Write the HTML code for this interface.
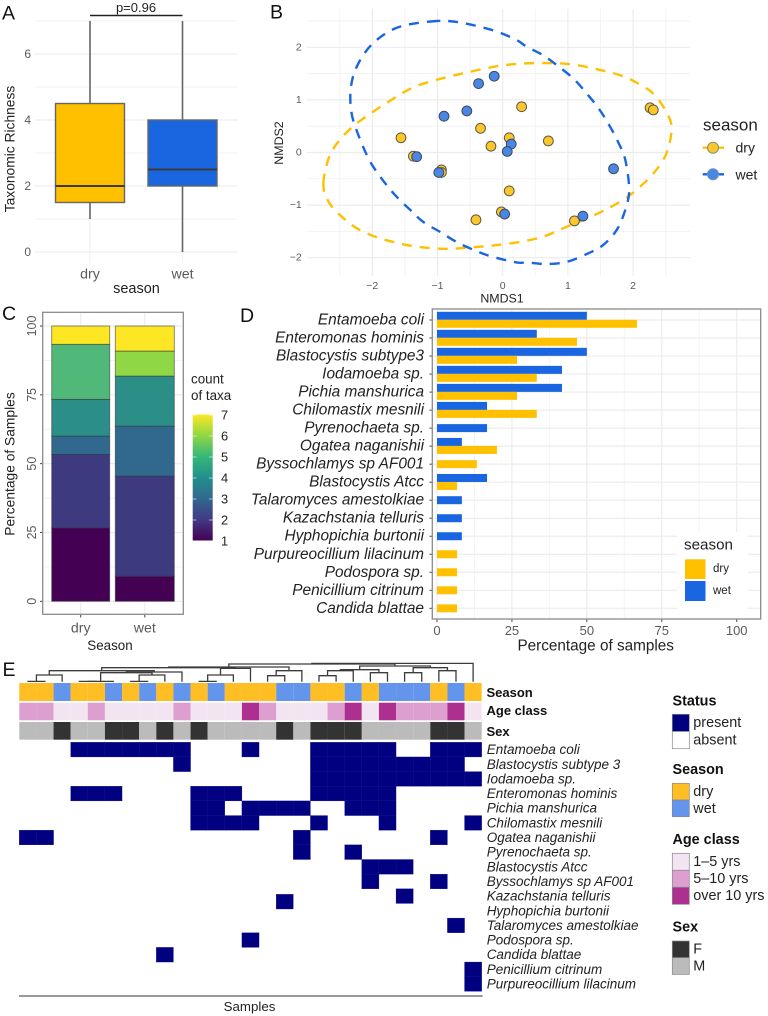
<!DOCTYPE html>
<html lang="en">
<head>
<meta charset="utf-8">
<title>Taxonomic richness, ordination and prevalence panels</title>
<style>
html,body{margin:0;padding:0;background:#fff;width:768px;height:1016px;overflow:hidden}
svg{display:block;font-family:"Liberation Sans",sans-serif;filter:blur(.3px)}
text{dominant-baseline:central}
.letter{font-size:19.5px;fill:#111}
</style>
</head>
<body>
<svg id="fig" xmlns="http://www.w3.org/2000/svg" width="768" height="1016" viewBox="0 0 768 1016">
  <defs>
    <linearGradient id="viridis" x1="0" y1="1" x2="0" y2="0">
      <stop offset="0" stop-color="#440154"/><stop offset="0.167" stop-color="#443a83"/>
      <stop offset="0.333" stop-color="#31688e"/><stop offset="0.5" stop-color="#21908c"/>
      <stop offset="0.667" stop-color="#35b779"/><stop offset="0.833" stop-color="#8fd744"/>
      <stop offset="1" stop-color="#fde725"/>
    </linearGradient>
  </defs>
  <rect width="768" height="1016" fill="#fff"/>

  <g id="panelA">
    <text class="letter" x="2" y="13.5">A</text>
    <g id="a-grid"></g>
    <g id="a-marks"></g>
    <text x="136" y="7.5" font-size="13" text-anchor="middle" fill="#222">p=0.96</text>
    <text transform="translate(10,149) rotate(-90)" font-size="13.8" text-anchor="middle" fill="#222">Taxonomic Richness</text>
    <text x="136.5" y="289" font-size="14.5" text-anchor="middle" fill="#222">season</text>
  </g>

  <g id="panelB">
    <text class="letter" x="270" y="12.5">B</text>
    <g id="b-grid"></g>
    <g id="b-marks"></g>
    <text transform="translate(279,143) rotate(-90)" font-size="12.4" text-anchor="middle" fill="#222">NMDS2</text>
    <text x="502" y="298.5" font-size="12.4" text-anchor="middle" fill="#222">NMDS1</text>
    <g>
      <text x="703" y="125" font-size="17" fill="#222">season</text>
      <line x1="702.7" x2="724" y1="147.7" y2="147.7" stroke="#ffc000" stroke-width="2.4"/>
      <circle cx="713" cy="147.7" r="5.5" fill="#fcc72a" stroke="#888" stroke-width="1"/>
      <text x="735.5" y="147.7" font-size="14" fill="#222">dry</text>
      <line x1="702.7" x2="724" y1="174.3" y2="174.3" stroke="#1a66e0" stroke-width="2.4"/>
      <circle cx="713" cy="174.3" r="5.5" fill="#4a86e4" stroke="#6f8fc0" stroke-width="1"/>
      <text x="735.5" y="174.3" font-size="14" fill="#222">wet</text>
    </g>
  </g>

  <g id="panelC">
    <text class="letter" x="2" y="314">C</text>
    <g id="c-grid"></g>
    <g id="c-marks"></g>
    <rect x="42.7" y="312.3" width="140.6" height="302" fill="none" stroke="#8a8a8a" stroke-width="1.3"/>
    <text transform="translate(10,464) rotate(-90)" font-size="13.8" text-anchor="middle" fill="#222">Percentage of Samples</text>
    <text x="110" y="645.5" font-size="13.4" text-anchor="middle" fill="#222">Season</text>
    <text x="191" y="379" font-size="13.4" fill="#222">count</text>
    <text x="191" y="395.5" font-size="13.4" fill="#222">of taxa</text>
    <rect x="192.7" y="414.5" width="20" height="126" fill="url(#viridis)"/>
    <g id="c-legend"></g>
  </g>

  <g id="panelD">
    <text class="letter" x="240" y="316">D</text>
    <g id="d-grid"></g>
    <g id="d-marks"></g>
    <rect x="432.3" y="309" width="328.4" height="310" fill="none" stroke="#8a8a8a" stroke-width="1.3"/>
    <text x="595.7" y="646" font-size="15.3" text-anchor="middle" fill="#222">Percentage of samples</text>
    <g>
      <rect x="677" y="532" width="71" height="86" fill="#fff"/>
      <text x="684" y="545" font-size="15.2" fill="#222">season</text>
      <rect x="685" y="559.3" width="20.5" height="19.7" fill="#ffc000"/>
      <text x="713" y="569" font-size="11.5" fill="#222">dry</text>
      <rect x="685" y="581" width="20.5" height="20" fill="#1a66e0"/>
      <text x="713" y="591" font-size="11.5" fill="#222">wet</text>
    </g>
  </g>

  <g id="panelE">
    <text class="letter" x="2.5" y="670">E</text>
    <g id="e-tree"></g>
    <g id="e-annot"></g>
    <g id="e-cells"></g>
    <g id="e-labels"></g>
    <text x="486.5" y="692.7" font-size="13" font-weight="bold" fill="#111">Season</text>
    <text x="486.5" y="710.7" font-size="13" font-weight="bold" fill="#111">Age class</text>
    <text x="486.5" y="731.5" font-size="13" font-weight="bold" fill="#111">Sex</text>
    <line x1="19" x2="482.7" y1="996" y2="996" stroke="#333" stroke-width="1.1"/>
    <text x="249.5" y="1006.7" font-size="13.3" text-anchor="middle" fill="#222">Samples</text>
    <g font-size="14.4" fill="#222">
      <text x="672.5" y="701.7" font-size="14.4" font-weight="bold" fill="#111">Status</text>
      <rect x="672.3" y="714.3" width="17" height="17.2" fill="#000080" stroke="#888" stroke-width=".7"/>
      <rect x="672.3" y="731.5" width="17" height="17.2" fill="#fff" stroke="#888" stroke-width=".7"/>
      <text x="693.3" y="723.2">present</text>
      <text x="693.3" y="740.3">absent</text>
      <text x="672.5" y="770" font-size="14.4" font-weight="bold" fill="#111">Season</text>
      <rect x="672.3" y="783.3" width="17" height="16.7" fill="#ffbf24" stroke="#888" stroke-width=".7"/>
      <rect x="672.3" y="800" width="17" height="16.7" fill="#6495ed" stroke="#888" stroke-width=".7"/>
      <text x="693.3" y="792">dry</text>
      <text x="693.3" y="809">wet</text>
      <text x="672.5" y="840" font-size="14.4" font-weight="bold" fill="#111">Age class</text>
      <rect x="672.3" y="853.3" width="17" height="17" fill="#f2e4f0" stroke="#888" stroke-width=".7"/>
      <rect x="672.3" y="870.3" width="17" height="17" fill="#dd9fd0" stroke="#888" stroke-width=".7"/>
      <rect x="672.3" y="887.3" width="17" height="17" fill="#ad2f8f" stroke="#888" stroke-width=".7"/>
      <text x="693.3" y="862">1–5 yrs</text>
      <text x="693.3" y="879">5–10 yrs</text>
      <text x="693.3" y="896">over 10 yrs</text>
      <text x="672.5" y="927.7" font-size="14.4" font-weight="bold" fill="#111">Sex</text>
      <rect x="672.3" y="941" width="17" height="16.7" fill="#333" stroke="#888" stroke-width=".7"/>
      <rect x="672.3" y="957.7" width="17" height="16.7" fill="#bbb" stroke="#888" stroke-width=".7"/>
      <text x="693.3" y="949.5">F</text>
      <text x="693.3" y="966.5">M</text>
    </g>
  </g>
</svg>

<script>
/* ---------- Panel A data ---------- */
const boxCategories = ['dry', 'wet'];
const boxMin = [1, 0];
const boxQ1 = [1.5, 2];
const boxMedian = [2, 2.5];
const boxQ3 = [4.5, 4];
const boxMax = [7, 7];
const richnessTicks = [0, 2, 4, 6];
const richnessMinorTicks = [1, 3, 5, 7];

/* ---------- Panel B data ---------- */
const nmdsDryX = [-1.56, -1.37, -0.94, -0.94, -0.34, -0.18, 0.10, 0.10, -0.02, -0.41, 0.29, 0.70, 2.26, 2.31, 1.10];
const nmdsDryY = [0.28, -0.07, -0.33, -0.38, 0.46, 0.12, 0.28, -0.73, -1.13, -1.28, 0.87, 0.22, 0.85, 0.81, -1.30];
const nmdsWetX = [-0.37, -0.13, -0.55, -0.90, -1.32, -0.98, 0.13, 0.07, 0.03, 1.70, 1.23];
const nmdsWetY = [1.31, 1.45, 0.79, 0.69, -0.08, -0.38, 0.16, 0.02, -1.17, -0.31, -1.21];
const ellipseDryX = [-2.75, -2.73, -2.65, -2.50, -2.27, -1.98, -1.68, -1.37, -0.96, -0.55, -0.14, 0.27, 0.67, 0.93, 1.19, 1.49, 1.80, 2.05, 2.31, 2.51, 2.59, 2.51, 2.31, 2.05, 1.85, 1.54, 1.24, 0.93, 0.62, 0.27, -0.09, -0.45, -0.86, -1.32, -1.68, -1.98, -2.24, -2.44, -2.62, -2.73];
const ellipseDryY = [-0.59, -0.40, -0.05, 0.24, 0.52, 0.78, 1.02, 1.24, 1.40, 1.52, 1.63, 1.69, 1.70, 1.69, 1.65, 1.57, 1.47, 1.33, 1.12, 0.77, 0.46, -0.02, -0.40, -0.71, -0.90, -1.11, -1.28, -1.44, -1.60, -1.70, -1.76, -1.80, -1.83, -1.79, -1.70, -1.59, -1.44, -1.25, -1.03, -0.78];
const ellipseWetX = [-1.01, -1.42, -1.70, -1.96, -2.14, -2.27, -2.33, -2.33, -2.27, -2.06, -1.86, -1.65, -1.42, -1.22, -0.96, -0.71, -0.45, -0.19, 0.21, 0.37, 0.67, 0.98, 1.29, 1.54, 1.75, 1.88, 1.94, 1.88, 1.77, 1.62, 1.47, 1.29, 1.08, 0.83, 0.62, 0.37, 0.21, -0.09, -0.45, -0.76];
const ellipseWetY = [2.50, 2.44, 2.33, 2.11, 1.85, 1.54, 1.22, 0.87, 0.52, -0.11, -0.49, -0.81, -1.09, -1.32, -1.51, -1.70, -1.85, -1.97, -2.09, -2.09, -2.12, -2.08, -1.93, -1.76, -1.47, -1.09, -0.71, -0.14, 0.20, 0.55, 0.84, 1.12, 1.41, 1.66, 1.85, 2.01, 2.14, 2.30, 2.42, 2.49];
const nmdsTicks = [-2, -1, 0, 1, 2];
const nmdsMinorX = [-2.5, -1.5, -0.5, 0.5, 1.5, 2.5];
const nmdsMinorY = [-1.5, -0.5, 0.5, 1.5, 2.5];

/* ---------- Panel C data ---------- */
const stackCategories = ['dry', 'wet'];
const taxaCounts = [1, 2, 3, 4, 5, 6, 7];
const dryShares = [26.67, 26.67, 6.67, 13.33, 20, 0, 6.66];
const wetShares = [9.09, 36.36, 18.18, 18.18, 0, 9.1, 9.09];
const percentTicks = [0, 25, 50, 75, 100];
const percentMinorTicks = [12.5, 37.5, 62.5, 87.5];
const taxaColours = ['#440154', '#3e3a80', '#31688e', '#2b8e87', '#50b878', '#8fd744', '#fde725'];

/* ---------- Panel D data ---------- */
const taxaNames = ['Entamoeba coli', 'Enteromonas hominis', 'Blastocystis subtype3', 'Iodamoeba sp.', 'Pichia manshurica', 'Chilomastix mesnili', 'Pyrenochaeta sp.', 'Ogatea naganishii', 'Byssochlamys sp AF001', 'Blastocystis Atcc', 'Talaromyces amestolkiae', 'Kazachstania telluris', 'Hyphopichia burtonii', 'Purpureocillium lilacinum', 'Podospora sp.', 'Penicillium citrinum', 'Candida blattae'];
const wetPercent = [50, 33.3, 50, 41.7, 41.7, 16.7, 16.7, 8.3, 0, 16.7, 8.3, 8.3, 8.3, 0, 0, 0, 0];
const dryPercent = [66.7, 46.7, 26.7, 33.3, 26.7, 33.3, 0, 20, 13.3, 6.7, 0, 0, 0, 6.7, 6.7, 6.7, 6.7];
const prevalenceTicks = [0, 25, 50, 75, 100];
const prevalenceMinorTicks = [12.5, 37.5, 62.5, 87.5];

/* ---------- Panel E data ---------- */
const sampleSeason = ['D','D','W','D','D','W','D','W','D','W','D','W','D','D','D','W','W','D','D','W','D','W','W','W','D','W','D'];
const sampleAge = ['M','M','Y','Y','M','Y','Y','Y','Y','M','Y','Y','Y','O','M','Y','Y','Y','M','O','Y','O','M','M','M','O','Y'];
const sampleSex = ['M','M','F','M','M','F','F','M','F','M','F','M','M','M','M','F','M','F','F','F','M','M','M','M','F','F','M'];
const heatmapTaxa = ['Entamoeba coli', 'Blastocystis subtype 3', 'Iodamoeba sp.', 'Enteromonas hominis', 'Pichia manshurica', 'Chilomastix mesnili', 'Ogatea naganishii', 'Pyrenochaeta sp.', 'Blastocystis Atcc', 'Byssochlamys sp AF001', 'Kazachstania telluris', 'Hyphopichia burtonii', 'Talaromyces amestolkiae', 'Podospora sp.', 'Candida blattae', 'Penicillium citrinum', 'Purpureocillium lilacinum'];
const presentSamples = [
  [3,4,5,6,7,8,9,13,17,18,19,20,21,24,25,26],
  [9,17,18,19,20,21,22,23,24,25],
  [17,18,19,20,21,22,23,24,25,26],
  [3,4,5,10,11,12,17,18,19,20,21],
  [10,11,13,14,15,16,19,20,21],
  [10,11,12,13,17,21,26],
  [0,1,16,24],
  [16,19],
  [20,21,22],
  [20,24],
  [22],
  [15],
  [25],
  [13],
  [8],
  [26],
  [26]
];
/* dendrogram: [height, left, right]; a number is a sample column */
const sampleTree = [18.3,
  [17.7,
    [14.7,
      [14,
        [11,
          [6.7, [0.3, 0, 1], 2],
          [9.7,
            [9, [0.3, [0.3, 3, 4], 5], [6.7, [0.3, 6, 7], 8]],
            9]],
        [13.3, [6.7, [0.3, 10, 11], 12], 13]],
      [11, [6, 14, 15], 16]],
    [15.7,
      [12, [11, [6, 17, 18], 19], [9, 20, 21]],
      [14, [9, 22, 23], [11, 24, 25]]]],
  26];

/* ---------- helpers ---------- */
const SVGNS = 'http://www.w3.org/2000/svg';
function mk(tag, attrs, parent, txt) {
  const n = document.createElementNS(SVGNS, tag);
  for (const k in attrs) n.setAttribute(k, attrs[k]);
  if (txt !== undefined) n.textContent = txt;
  parent.appendChild(n);
  return n;
}
const $ = id => document.getElementById(id);
const MINUS = '\u2212';
const fmt = v => (v < 0 ? MINUS + Math.abs(v) : String(v));

/* ---------- Panel A ---------- */
const yA = v => 252 - 33 * v;
const xA = i => 90 + 92.5 * i;
richnessMinorTicks.forEach(v => {
  const l = mk('line', {x1: 35, x2: 238, y1: yA(v), y2: yA(v), stroke: '#f3f3f3', 'stroke-width': 1}, $('a-grid'));
  
  
});
richnessTicks.forEach(v => {
  const l = mk('line', {x1: 35, x2: 238, y1: yA(v), y2: yA(v), stroke: '#ededed', 'stroke-width': 1.2}, $('a-grid'));
  
  
  const t = mk('text', {x: 31, y: yA(v), 'font-size': 12, 'text-anchor': 'end', fill: '#5a5a5a'}, $('a-grid'), String(v));
  
  
});
boxCategories.forEach((c, i) => {
  const g = mk('line', {x1: xA(i), x2: xA(i), y1: 20, y2: 263, stroke: '#f0f0f0', 'stroke-width': 1.2}, $('a-grid'));
  
  
  const t = mk('text', {x: xA(i), y: 274.5, 'font-size': 14.2, 'text-anchor': 'middle', fill: '#5a5a5a'}, $('a-grid'), c);
  
  
  const w = mk('line', {x1: xA(i), x2: xA(i), y1: yA(boxMin[i]), y2: yA(boxMax[i]), stroke: '#666', 'stroke-width': 1.6}, $('a-marks'));
  
  
  const r = mk('rect', {x: xA(i) - 34.5, width: 69, y: yA(boxQ3[i]), height: yA(boxQ1[i]) - yA(boxQ3[i]), fill: c === 'dry' ? '#ffc000' : '#1a66e0', stroke: '#666', 'stroke-width': 1.4}, $('a-marks'));
  
  
  const m = mk('line', {x1: xA(i) - 34.5, x2: xA(i) + 34.5, y1: yA(boxMedian[i]), y2: yA(boxMedian[i]), stroke: '#3a3a3a', 'stroke-width': 2}, $('a-marks'));
  
  
});
const bracket = mk('line', {x1: xA(0), x2: xA(1), y1: 15.5, y2: 15.5, stroke: '#222', 'stroke-width': 1.4}, $('a-marks'));



/* ---------- Panel B ---------- */
const xB = v => 502.7 + 65.2 * v;
const yB = v => 152.5 - 52.6 * v;
nmdsMinorX.forEach(v => {
  const l = mk('line', {x1: xB(v), x2: xB(v), y1: 9, y2: 276, stroke: '#f3f3f3', 'stroke-width': 1}, $('b-grid'));
  
  
});
nmdsMinorY.forEach(v => {
  const l = mk('line', {x1: 307, x2: 690, y1: yB(v), y2: yB(v), stroke: '#f3f3f3', 'stroke-width': 1}, $('b-grid'));
  
  
});
nmdsTicks.forEach(v => {
  const vl = mk('line', {x1: xB(v), x2: xB(v), y1: 9, y2: 276, stroke: '#ececec', 'stroke-width': 1.2}, $('b-grid'));
  
  
  const hl = mk('line', {x1: 307, x2: 690, y1: yB(v), y2: yB(v), stroke: '#ececec', 'stroke-width': 1.2}, $('b-grid'));
  
  
  const tx = mk('text', {x: xB(v), y: 286, 'font-size': 10.5, 'text-anchor': 'middle', fill: '#5a5a5a'}, $('b-grid'), fmt(v));
  
  
  const ty = mk('text', {x: 301.7, y: yB(v), 'font-size': 10.5, 'text-anchor': 'end', fill: '#5a5a5a'}, $('b-grid'), fmt(v));
  
  
});
function closedCurve(xs, ys) {
  const n = xs.length;
  const px = i => xB(xs[(i + n) % n]);
  const py = i => yB(ys[(i + n) % n]);
  let d = 'M' + px(0).toFixed(1) + ' ' + py(0).toFixed(1);
  for (let i = 0; i < n; i++) {
    const c1x = px(i) + (px(i + 1) - px(i - 1)) / 6;
    const c1y = py(i) + (py(i + 1) - py(i - 1)) / 6;
    const c2x = px(i + 1) - (px(i + 2) - px(i)) / 6;
    const c2y = py(i + 1) - (py(i + 2) - py(i)) / 6;
    d += 'C' + [c1x, c1y, c2x, c2y, px(i + 1), py(i + 1)].map(z => z.toFixed(1)).join(' ');
  }
  return d + 'Z';
}
const ellipseDry = mk('path', {d: closedCurve(ellipseDryX, ellipseDryY), fill: 'none', stroke: '#ffc000', 'stroke-width': 2.4, 'stroke-dasharray': '10 8'}, $('b-marks'));


const ellipseWet = mk('path', {d: closedCurve(ellipseWetX, ellipseWetY), fill: 'none', stroke: '#1a66e0', 'stroke-width': 2.4, 'stroke-dasharray': '10 8'}, $('b-marks'));


nmdsDryX.forEach((x, i) => {
  const c = mk('circle', {cx: xB(x), cy: yB(nmdsDryY[i]), r: 4.9, fill: '#fcc72a', stroke: '#5f5a48', 'stroke-width': 1}, $('b-marks'));
  
  
});
nmdsWetX.forEach((x, i) => {
  const c = mk('circle', {cx: xB(x), cy: yB(nmdsWetY[i]), r: 4.9, fill: '#4a86e4', stroke: '#3e4a60', 'stroke-width': 1}, $('b-marks'));
  
  
});

/* ---------- Panel C ---------- */
const yC = v => 601.3 - 2.753 * v;
const barC = [{x: 51.7, w: 58, mid: 80.7}, {x: 115.3, w: 59, mid: 144.8}];
percentMinorTicks.forEach(v => {
  const l = mk('line', {x1: 43, x2: 183, y1: yC(v), y2: yC(v), stroke: '#f3f3f3', 'stroke-width': 1}, $('c-grid'));
  
  
});
percentTicks.forEach(v => {
  const l = mk('line', {x1: 43, x2: 183, y1: yC(v), y2: yC(v), stroke: '#ececec', 'stroke-width': 1.2}, $('c-grid'));
  
  
  const k = mk('line', {x1: 40, x2: 43, y1: yC(v), y2: yC(v), stroke: '#444', 'stroke-width': 1}, $('c-grid'));
  
  
  const t = mk('text', {transform: 'translate(32,' + yC(v) + ') rotate(-90)', 'font-size': 12.5, 'text-anchor': 'middle', fill: '#5a5a5a'}, $('c-grid'), String(v));
  
  
});
stackCategories.forEach((c, i) => {
  const shares = c === 'dry' ? dryShares : wetShares;
  const g = mk('line', {x1: barC[i].mid, x2: barC[i].mid, y1: 313, y2: 614, stroke: '#ececec', 'stroke-width': 1.2}, $('c-grid'));
  
  
  const k = mk('line', {x1: barC[i].mid, x2: barC[i].mid, y1: 614.3, y2: 617.5, stroke: '#444', 'stroke-width': 1}, $('c-grid'));
  
  
  const t = mk('text', {x: barC[i].mid, y: 628.5, 'font-size': 14.2, 'text-anchor': 'middle', fill: '#5a5a5a'}, $('c-grid'), c);
  
  
  let base = 0;
  taxaCounts.forEach((count, j) => {
    if (!shares[j]) return;
    const r = mk('rect', {x: barC[i].x, width: barC[i].w, y: yC(base + shares[j]), height: yC(base) - yC(base + shares[j]), fill: taxaColours[j], stroke: 'rgba(50,50,60,.6)', 'stroke-width': 0.9}, $('c-marks'));
    
    
    base += shares[j];
  });
});
taxaCounts.forEach(count => {
  const y = 541 - (count - 1) * 21;
  const t = mk('text', {x: 221, y: y, 'font-size': 12.8, fill: '#222'}, $('c-legend'), String(count));
  
  
  const a = mk('line', {x1: 192.7, x2: 196.5, y1: y, y2: y, stroke: '#fff', 'stroke-width': 0.7, opacity: 0.8}, $('c-legend'));
  
  
  const b = mk('line', {x1: 208.9, x2: 212.7, y1: y, y2: y, stroke: '#fff', 'stroke-width': 0.7, opacity: 0.8}, $('c-legend'));
  
  
});

/* ---------- Panel D ---------- */
const xD = v => 437 + 2.997 * v;
const yD = i => 320 + 18.02 * i;
prevalenceMinorTicks.forEach(v => {
  const l = mk('line', {x1: xD(v), x2: xD(v), y1: 310, y2: 618, stroke: '#f4f4f4', 'stroke-width': 1}, $('d-grid'));
  
  
});
prevalenceTicks.forEach(v => {
  const l = mk('line', {x1: xD(v), x2: xD(v), y1: 310, y2: 618, stroke: '#ececec', 'stroke-width': 1.2}, $('d-grid'));
  
  
  const k = mk('line', {x1: xD(v), x2: xD(v), y1: 619, y2: 622, stroke: '#444', 'stroke-width': 1}, $('d-grid'));
  
  
  const t = mk('text', {x: xD(v), y: 630.5, 'font-size': 13, 'text-anchor': 'middle', fill: '#5a5a5a'}, $('d-grid'), String(v));
  
  
});
taxaNames.forEach((name, i) => {
  const y = yD(i);
  const g = mk('line', {x1: 433, x2: 760, y1: y, y2: y, stroke: '#ececec', 'stroke-width': 1.2}, $('d-grid'));
  
  
  const k = mk('line', {x1: 429.5, x2: 432.3, y1: y, y2: y, stroke: '#444', 'stroke-width': 1}, $('d-grid'));
  
  
  const t = mk('text', {x: 424, y: y, 'font-size': 15.4, 'font-style': 'italic', 'text-anchor': 'end', fill: '#222'}, $('d-grid'), name);
  
  
  const both = wetPercent[i] > 0 && dryPercent[i] > 0;
  if (wetPercent[i] > 0) {
    const r = mk('rect', {x: xD(0), y: both ? y - 8.2 : y - 4, width: xD(wetPercent[i]) - xD(0), height: 8, fill: '#1a66e0'}, $('d-marks'));
    
    
  }
  if (dryPercent[i] > 0) {
    const r = mk('rect', {x: xD(0), y: both ? y - 0.2 : y - 4, width: xD(dryPercent[i]) - xD(0), height: 8, fill: '#ffc000'}, $('d-marks'));
    
    
  }
});

/* ---------- Panel E ---------- */
const colLeft = i => 19.3 + 17.125 * i;
const COL_W = 17.125;
const ROW_H = 14.65;
const rowTop = r => 742.3 + ROW_H * r;
const HYPHOPICHIA_ROW = 11;
const HYPHOPICHIA_NUDGE = -9.1;
const seasonFill = {D: '#ffbf24', W: '#6495ed'};
const ageFill = {Y: '#f2e4f0', M: '#dd9fd0', O: '#ad2f8f'};
const sexFill = {F: '#333333', M: '#bbbbbb'};
sampleSeason.forEach((v, i) => {
  const r = mk('rect', {x: colLeft(i), y: 683, width: COL_W, height: 18, fill: seasonFill[v]}, $('e-annot'));
  
  
});
sampleAge.forEach((v, i) => {
  const r = mk('rect', {x: colLeft(i), y: 702.7, width: COL_W, height: 17.6, fill: ageFill[v]}, $('e-annot'));
  
  
});
sampleSex.forEach((v, i) => {
  const r = mk('rect', {x: colLeft(i), y: 722, width: COL_W, height: 17.7, fill: sexFill[v]}, $('e-annot'));
  
  
});
presentSamples.forEach((cols, r) => {
  const top = rowTop(r) + (r === HYPHOPICHIA_ROW ? HYPHOPICHIA_NUDGE : 0);
  cols.forEach(c => {
    const cell = mk('rect', {x: colLeft(c), y: top, width: COL_W, height: ROW_H, fill: '#000080', stroke: '#10108a', 'stroke-width': 0.3}, $('e-cells'));
    
    
  });
});
heatmapTaxa.forEach((name, r) => {
  const t = mk('text', {x: 486.7, y: rowTop(r) + ROW_H / 2, 'font-size': 13.5, 'font-style': 'italic', fill: '#222'}, $('e-labels'), name);
  
  
});
const TREE_BASE = 681.7;
function drawTree(node) {
  if (typeof node === 'number') return {x: colLeft(node) + COL_W / 2, h: 0};
  const a = drawTree(node[1]);
  const b = drawTree(node[2]);
  const h = node[0];
  const d = 'M' + a.x + ' ' + (TREE_BASE - a.h) + 'V' + (TREE_BASE - h) + 'H' + b.x + 'V' + (TREE_BASE - b.h);
  const p = mk('path', {d: d, fill: 'none', stroke: '#3c3c3c', 'stroke-width': 1.3}, $('e-tree'));
  
  
  return {x: (a.x + b.x) / 2, h: h};
}
drawTree(sampleTree);
</script>
</body>
</html>
